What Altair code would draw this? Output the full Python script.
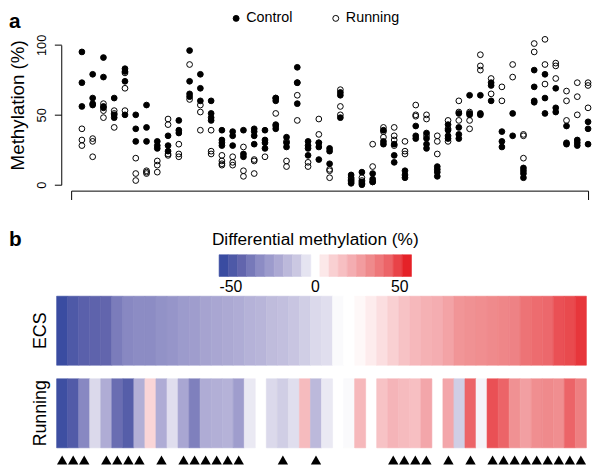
import altair as alt
import pandas as pd

FONT = "Liberation Sans"

# ---------------- Panel a: methylation (%) per CpG site ----------------
control = [
    [95, 73, 56], [79, 62, 58, 57], [91, 77, 56, 55], [62, 50, 48], [83, 81, 74, 50],
    [50, 40, 31], [57, 41, 31], [31, 28, 26], [35, 28, 24], [46, 39, 37],
    [96, 74, 65, 63], [79, 69, 60], [60, 51, 48, 46], [39, 32, 30, 28], [38, 35, 28],
    [39, 22, 20], [40, 38, 35, 29], [39, 32, 30, 26], [62, 60, 43, 40], [34, 30, 27],
    [84, 73, 58], [31, 28, 26, 21], [30, 27, 18], [26, 24, 15], [66, 64, 48],
    [7, 3, 1], [9, 2, 0], [8, 4, 2], [39, 31, 29], [29, 21, 16],
    [10, 7, 5], [42, 35, 33], [37, 33, 29, 26], [13, 11, 9, 6], [43, 39, 35, 33],
    [51, 41, 36, 33], [64, 51, 50], [64, 51, 50], [73, 71, 60], [38, 31, 27],
    [51, 35], [12, 10, 8, 5], [82, 70, 60, 59], [79, 62, 51], [69, 55, 52],
    [42, 30, 29], [32, 30, 28], [45, 40, 29],
]
running = [
    [40, 32, 28], [33, 31, 20], [58, 53, 48], [53, 51, 41], [80, 69, 53],
    [19, 8, 3], [10, 9, 8], [17, 14, 9], [47, 43, 22, 21], [29, 22, 20],
    [86, 61], [57, 52, 39], [39, 24, 22], [21, 17, 15, 14], [20, 16, 14],
    [27, 10, 6], [18, 17, 8], [20], [62, 51, 42], [31, 17, 13],
    [73, 64, 46], [16, 13], [47, 36, 30], [11, 10, 5], [68, 56, 50],
    [5, 4, 2], [5, 3, 1], [29, 13, 2], [41, 38, 34], [41, 35, 32, 28],
    [31, 24, 22], [57, 50, 49], [50, 47, 35], [35, 31, 22], [46, 40, 31],
    [60, 52, 46], [52, 46, 40], [93, 85, 82], [76, 65], [70, 60],
    [86, 77], [36, 35, 19], [101, 95], [104, 86, 72], [87, 85, 76],
    [67, 60, 46], [73, 63, 50], [73, 71, 55],
]
group_names = ["Control", "Running"]

# ---------------- Panel b: differential methylation (%) ----------------
ecs_diff = [
    -50, -45, -42, -41, -40, -34, -31, -30, -30, -28, -27, -25,
    -24, -22, -21, -20, -19, -17, -16, -14, -13, -11, -9, -7,
    -6, -1, 0, 1.5, 4, 7, 10, 14, 17, 19, 20, 23,
    27, 28, 29, 30, 31, 32, 36, 38, 39, 43, 44, 47,
]
running_diff = [
    -49, -44, -31, -7, -19, -38, -43, -18, 9, -19, -6, -21,
    -33, -19, -18, -17, -24, -4, None, -7, -9, -6, 16, -15,
    -4, None, -1, 17, None, 14, 18, 16, 15, 22, None, 22,
    -9, 40, -2, 43, 40, 28, 24, 29, 30, 29, 40, 33,
]
significant = [0, 1, 2, 4, 5, 6, 7, 9, 11, 12, 13, 14, 15, 16, 20, 23,
               30, 31, 32, 33, 35, 37, 39, 40, 41, 42, 43, 44, 45, 46, 47]
row_names = ["ECS", "Running"]

legend_steps = [-50, -45, -40, -35, -30, -25, -20, -15, -10, -5,
                None, 5, 10, 15, 20, 25, 30, 35, 40, 45, 50]
legend_ticks = [-50, 0, 50]
legend_title = "Differential methylation (%)"

color_domain = [-50, -40, -30, -20, -10, 0, 10, 20, 30, 40, 50]
color_range = ["#3a4ca1", "#6265ad", "#8c8cc4", "#aca9d3", "#cbc8e2", "#ffffff",
               "#f9d0d2", "#f4adb1", "#ef8a8c", "#ec6468", "#e52228"]

# ---------------- tables ----------------
pts = []
for i, (c, r) in enumerate(zip(control, running)):
    for v in c:
        pts.append({"site": i, "group": "Control", "meth": v})
    for v in r:
        pts.append({"site": i, "group": "Running", "meth": v})
scatter_df = pd.DataFrame(pts)

cells = []
for name, vals in zip(row_names, [ecs_diff, running_diff]):
    for i, v in enumerate(vals):
        if v is not None:
            cells.append({"site": i, "site_end": i + 1, "row": name, "diff": v})
heat_df = pd.DataFrame(cells)
tri_df = pd.DataFrame({"center": [s + 0.5 for s in significant]})

n_leg = len(legend_steps)
lo_edge, hi_edge = -57.0, 57.0
step = (hi_edge - lo_edge) / n_leg
leg_df = pd.DataFrame([
    {"lo": lo_edge + k * step, "hi": lo_edge + (k + 1) * step, "diff": v}
    for k, v in enumerate(legend_steps) if v is not None
])
tick_df = pd.DataFrame({"v": legend_ticks, "t": [str(t) for t in legend_ticks]})
title_df = pd.DataFrame({"v": [0], "t": [legend_title]})

W, H = 592, 459
color_scale = alt.Scale(domain=color_domain, range=color_range, interpolate="rgb")
heat_x = alt.Scale(domain=[0, 48], range=[49.3, 586.3], nice=False, zero=False)
legend_x = alt.Scale(domain=[lo_edge, hi_edge], range=[214, 409], nice=False, zero=False)

scatter = alt.Chart(scatter_df).mark_point(
    shape="circle", size=34, filled=True, opacity=1, stroke="black", strokeWidth=1
).encode(
    x=alt.X("site:Q", scale=alt.Scale(domain=[-1, 47], range=[64, 588], nice=False, zero=False),
            axis=alt.Axis(orient="bottom", offset=-277, values=[-1, 47], labels=False,
                          tickSize=9, grid=False, title=None, domainColor="black",
                          tickColor="black", domainWidth=1, tickWidth=1)),
    y=alt.Y("meth:Q", scale=alt.Scale(domain=[0, 100], range=[176, 34.3], nice=False, zero=False),
            axis=alt.Axis(orient="left", offset=-54, values=[0, 50, 100], tickSize=7,
                          labelAngle=-90, labelAlign="center", labelBaseline="middle",
                          labelPadding=13, labelFontSize=13, labelColor="black", grid=False,
                          title="Methylation (%)", titleFontSize=19, titleFontWeight="normal",
                          titleX=-53, titleY=95, titleAngle=-90, titleBaseline="top",
                          titleAlign="center", titleColor="black", domainColor="black",
                          tickColor="black", domainWidth=1, tickWidth=1)),
    fill=alt.Fill("group:N", scale=alt.Scale(domain=group_names, range=["black", "transparent"]),
                  legend=alt.Legend(orient="none", legendX=224, legendY=0, direction="horizontal",
                                    title=None, labelFontSize=14.5, labelColor="black",
                                    symbolSize=36, symbolType="circle", symbolStrokeColor="black",
                                    symbolStrokeWidth=1, columnPadding=36, labelOffset=3,
                                    padding=0)),
)

heat = alt.Chart(heat_df).mark_rect(strokeWidth=0.6).encode(
    x=alt.X("site:Q", scale=heat_x, axis=None),
    x2="site_end:Q",
    y=alt.Y("row:N", sort=row_names,
            scale=alt.Scale(range=[289, 442.7], paddingInner=0.164, paddingOuter=0),
            axis=alt.Axis(orient="left", offset=-49.3, ticks=False, tickSize=0, domain=False,
                          labelAngle=-90, labelAlign="center", labelBaseline="middle",
                          labelPadding=15.8, labelFontSize=18, labelColor="black", title=None)),
    color=alt.Color("diff:Q", scale=color_scale, legend=None),
    stroke=alt.Stroke("diff:Q", scale=color_scale, legend=None),
)

tri = alt.Chart(tri_df).mark_point(shape="triangle-up", size=110, filled=True,
                                    color="black", opacity=1).encode(
    x=alt.X("center:Q", scale=heat_x, axis=None),
    y=alt.value(455),
)

leg_bar = alt.Chart(leg_df).mark_rect(strokeWidth=0.6).encode(
    x=alt.X("lo:Q", scale=legend_x, axis=None),
    x2="hi:Q",
    y=alt.value(247), y2=alt.value(269),
    color=alt.Color("diff:Q", scale=color_scale, legend=None),
    stroke=alt.Stroke("diff:Q", scale=color_scale, legend=None),
)

leg_ticks = alt.Chart(tick_df).mark_text(fontSize=16, baseline="middle", color="black").encode(
    x=alt.X("v:Q", scale=legend_x, axis=None),
    y=alt.value(280),
    text="t:N",
)

leg_title = alt.Chart(title_df).mark_text(fontSize=17.5, baseline="middle", color="black").encode(
    x=alt.X("v:Q", scale=legend_x, axis=None),
    y=alt.value(232),
    text="t:N",
)

lab_a = alt.Chart(alt.Data(values=[{}])).mark_text(
    text="a", fontSize=21, fontWeight="bold", align="left", baseline="top", color="black"
).encode(x=alt.value(1), y=alt.value(0))
lab_b = alt.Chart(alt.Data(values=[{}])).mark_text(
    text="b", fontSize=21, fontWeight="bold", align="left", baseline="alphabetic", color="black"
).encode(x=alt.value(1), y=alt.value(238))

chart = alt.layer(
    heat, tri, leg_bar, leg_ticks, leg_title, lab_a, lab_b, scatter
).resolve_scale(
    x="independent", y="independent"
).properties(
    width=W, height=H, autosize=alt.AutoSizeParams(type="none"), padding=0
).configure(font=FONT).configure_view(stroke=None)

chart.save("out.html", embed_options={"renderer": "svg", "actions": False})
